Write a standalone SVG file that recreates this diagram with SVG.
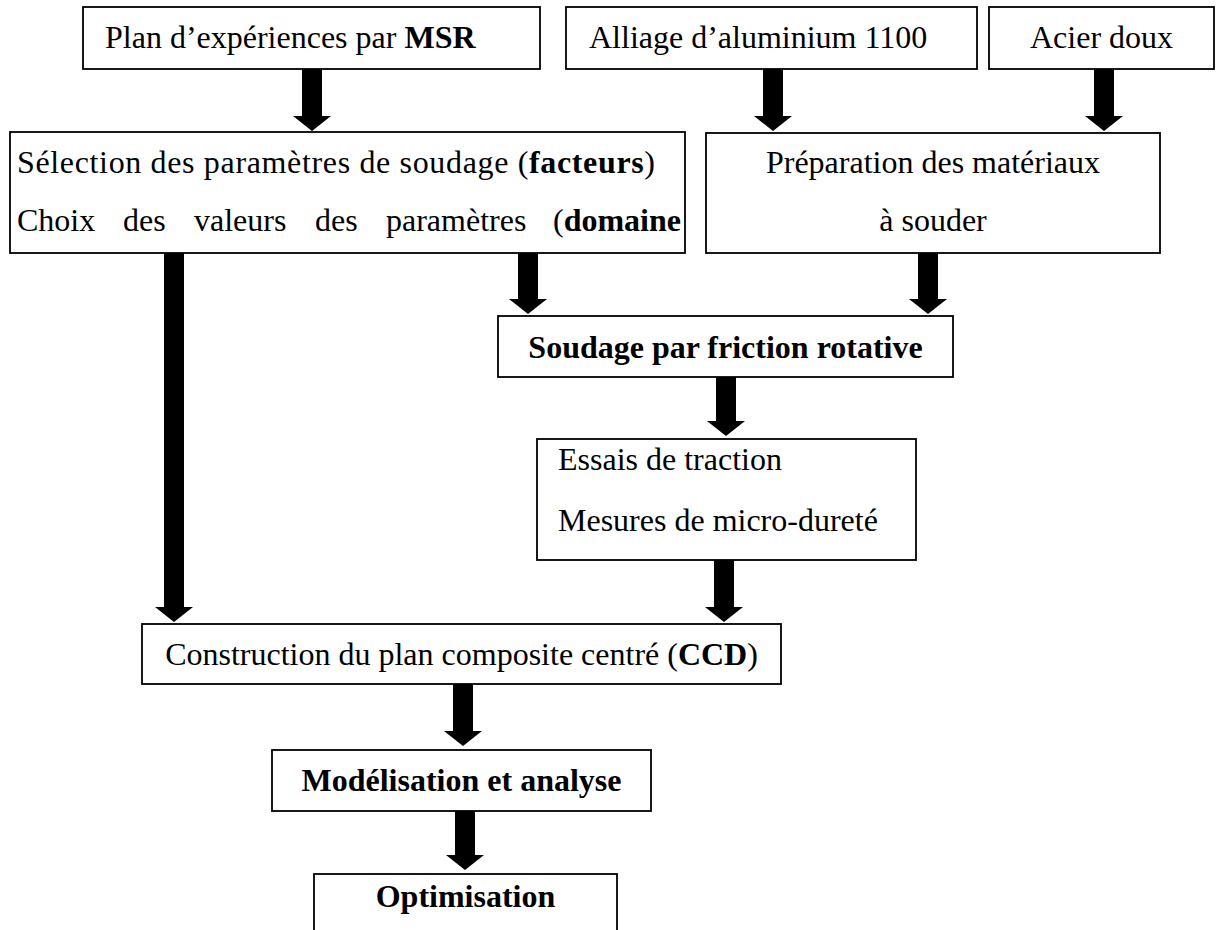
<svg xmlns="http://www.w3.org/2000/svg" width="1217" height="930" viewBox="0 0 1217 930">
<style>
  .box { fill: #ffffff; stroke: #000000; stroke-width: 1.8; }
  .t { font-family: "Liberation Serif", "Times New Roman", serif; font-size: 32px; fill: #000000; }
  .b { font-weight: bold; }
  .arrow { fill: #000000; stroke: none; }
</style>
<rect width="1217" height="930" fill="#ffffff"/>

<g id="connectors">
  <path class="arrow" d="M302,69 H322 V116 H331 L312,131 L293,116 H302 Z"/>
  <path class="arrow" d="M763,69 H783 V116 H792 L773,131 L754,116 H763 Z"/>
  <path class="arrow" d="M1094,69 H1114 V116 H1123 L1104,131 L1085,116 H1094 Z"/>
  <path class="arrow" d="M164,253 H184 V607 H193 L174,622 L155,607 H164 Z"/>
  <path class="arrow" d="M518,253 H538 V299 H547 L528,314 L509,299 H518 Z"/>
  <path class="arrow" d="M918,253 H938 V299 H947 L928,314 L909,299 H918 Z"/>
  <path class="arrow" d="M716,377 H736 V421 H745 L726,436 L707,421 H716 Z"/>
  <path class="arrow" d="M714,560 H734 V607 H743 L724,622 L705,607 H714 Z"/>
  <path class="arrow" d="M453,684 H473 V731 H482 L463,746 L444,731 H453 Z"/>
  <path class="arrow" d="M455,811 H475 V855 H484 L465,870 L446,855 H455 Z"/>
</g>

<g id="plan">
  <rect class="box" x="83" y="7" width="457" height="62"/>
  <text class="t" x="105" y="48">Plan d’expériences par <tspan class="b">MSR</tspan></text>
</g>

<g id="alliage">
  <rect class="box" x="566" y="7" width="411" height="62"/>
  <text class="t" x="589" y="48">Alliage d’aluminium 1100</text>
</g>

<g id="acier">
  <rect class="box" x="989" y="7" width="225" height="62"/>
  <text class="t" x="1101.5" y="48" text-anchor="middle">Acier doux</text>
</g>

<g id="selection">
  <rect class="box" x="10" y="132" width="675" height="121"/>
  <text class="t" x="17" y="173" textLength="638" lengthAdjust="spacing">Sélection des paramètres de soudage (<tspan class="b">facteurs</tspan>)</text>
  <text class="t" y="231"><tspan x="17">Choix</tspan><tspan x="123">des</tspan><tspan x="194">valeurs</tspan><tspan x="315">des</tspan><tspan x="386">paramètres</tspan><tspan x="553">(</tspan><tspan class="b">domaine</tspan></text>
</g>

<g id="preparation">
  <rect class="box" x="706" y="133" width="454" height="120"/>
  <text class="t" x="933" y="173" text-anchor="middle">Préparation des matériaux</text>
  <text class="t" x="933" y="231" text-anchor="middle">à souder</text>
</g>

<g id="soudage">
  <rect class="box" x="498" y="316" width="455" height="61"/>
  <text class="t b" x="725.5" y="358" text-anchor="middle">Soudage par friction rotative</text>
</g>

<g id="essais">
  <rect class="box" x="537" y="439" width="379" height="121"/>
  <text class="t" x="558" y="470">Essais de traction</text>
  <text class="t" x="558" y="531">Mesures de micro-dureté</text>
</g>

<g id="construction">
  <rect class="box" x="142" y="624" width="639" height="60"/>
  <text class="t" x="461.5" y="665" text-anchor="middle">Construction du plan composite centré (<tspan class="b">CCD</tspan>)</text>
</g>

<g id="modelisation">
  <rect class="box" x="272" y="750" width="379" height="61"/>
  <text class="t b" x="461.5" y="791" text-anchor="middle">Modélisation et analyse</text>
</g>

<g id="optimisation">
  <rect class="box" x="314" y="874" width="303" height="80"/>
  <text class="t b" x="465.5" y="907" text-anchor="middle">Optimisation</text>
</g>
</svg>
